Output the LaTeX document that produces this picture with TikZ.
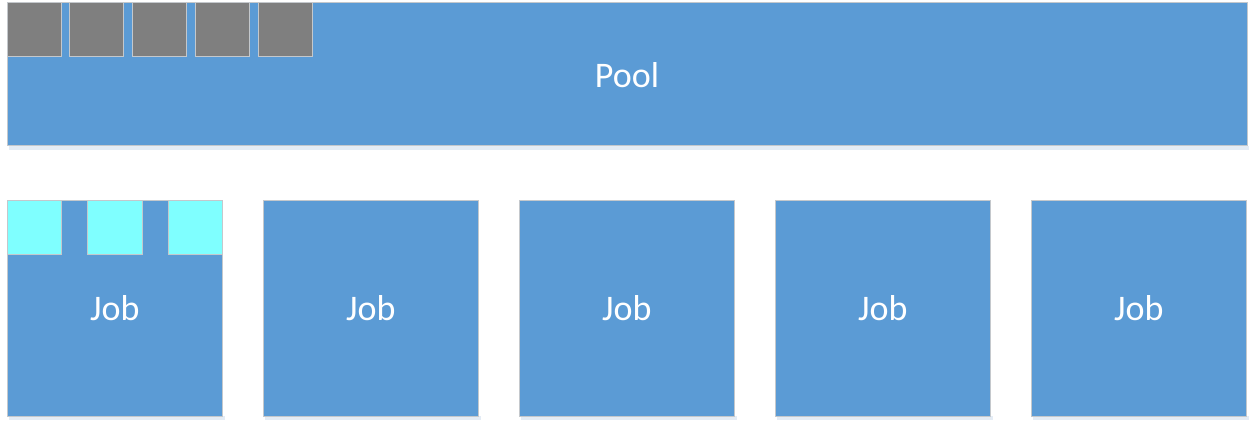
\documentclass[tikz,border=0pt]{standalone}
\usepackage{fontspec}
\setmainfont{Carlito}
\definecolor{boxblue}{HTML}{5B9BD5}
\definecolor{slotgray}{HTML}{7F7F7F}
\definecolor{slotcyan}{HTML}{7FFFFF}
\definecolor{edgegray}{HTML}{C4C8CC}
\definecolor{shadowblue}{HTML}{E4ECF5}
\begin{document}
\begin{tikzpicture}[x=1pt,y=-1pt,
  bluebox/.style={draw=edgegray,line width=1pt,fill=boxblue},
  grayslot/.style={draw=edgegray,line width=1pt,fill=slotgray},
  cyanslot/.style={draw=edgegray,line width=1pt,fill=slotcyan},
  boxlabel/.style={text=white,font=\fontsize{36}{43}\selectfont}]
\useasboundingbox[fill=white] (0,0) rectangle (1255,427);
% pool
\fill[shadowblue] (9,146) rectangle (1249,150);
\draw[bluebox] (7,3) rectangle (1247,146);
\node[boxlabel] (pool) at (627,75) {Pool};
\foreach \i/\x in {1/7,2/69.5,3/132,4/195,5/258}{
  \draw[grayslot] (\x,3) rectangle ++(54,54);
}
% jobs
\foreach \i/\x in {1/7,2/263,3/519,4/775,5/1031}{
  \fill[shadowblue] (\x+2,416) rectangle ++(215.5,4);
  \draw[bluebox] (\x,201) rectangle ++(215.5,215);
  \node[boxlabel] (job\i) at (\x+107.75,308.5) {Job};
}
\foreach \i/\x in {1/7,2/87.5,3/168}{
  \draw[cyanslot] (\x,201) rectangle ++(54.5,54);
}
\end{tikzpicture}
\end{document}
